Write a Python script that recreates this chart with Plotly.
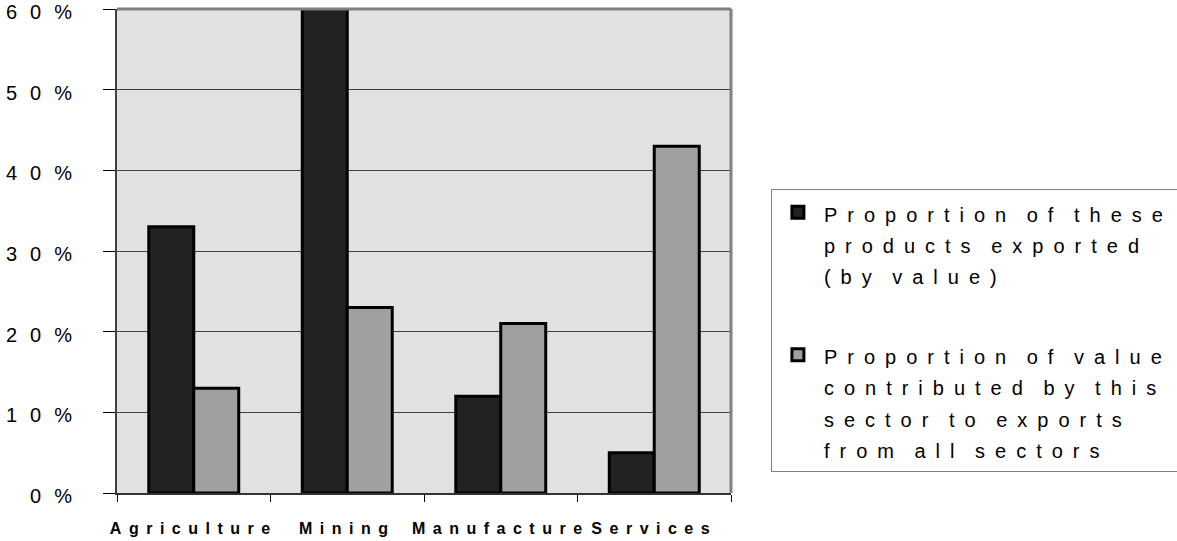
import plotly.graph_objects as go

# Sectors and the two measures for each (as fractions)
sectors = ["Agriculture", "Mining", "Manufacture", "Services"]
share_exported = [0.33, 0.60, 0.12, 0.05]
share_of_exports = [0.13, 0.23, 0.21, 0.43]

series_names = [
    "Proportion of these<br>products exported<br>(by value)",
    "Proportion of value<br>contributed by this<br>sector to exports<br>from all sectors",
]
series_colors = ["#222222", "#a0a0a0"]

y_tick_values = [0, 0.1, 0.2, 0.3, 0.4, 0.5, 0.6]
y_tick_labels = ["0%", "10%", "20%", "30%", "40%", "50%", "60%"]

FONT = "Liberation Sans, Arial, Helvetica, sans-serif"


def spaced(text, spacing, size=None, word=None):
    style = f"letter-spacing:{spacing}px"
    if word is not None:
        style += f";word-spacing:{word}px"
    if size is not None:
        style += f";font-size:{size}px"
    return f'<span style="{style}">{text}</span>'


fig = go.Figure()
for i, (name, vals, col) in enumerate(zip(series_names, [share_exported, share_of_exports], series_colors)):
    fig.add_trace(go.Bar(
        x=sectors,
        y=vals,
        name=spaced(name, 10, size=20, word=-5),
        legendgroup=f"g{i}",
        marker=dict(color=col, line=dict(color="#000000", width=3)),
        hoverinfo="x+y",
    ))

fig.update_layout(
    width=1177,
    height=541,
    margin=dict(l=117, r=446, t=9, b=48, autoexpand=False),
    paper_bgcolor="white",
    plot_bgcolor="#e1e1e1",
    barmode="group",
    bargap=0.414,
    bargroupgap=0,
    font=dict(family=FONT, color="#000000"),
    showlegend=True,
    legend=dict(
        x=1.065,
        y=0.628,
        xanchor="left",
        yanchor="top",
        bgcolor="white",
        bordercolor="#808080",
        borderwidth=1,
        font=dict(family=FONT, size=24, color="#000000"),
        traceorder="grouped",
        tracegroupgap=46,
        valign="top",
        itemwidth=42,
    ),
)

fig.update_xaxes(
    type="category",
    tickvals=sectors,
    ticktext=[spaced(f"<b>{s}</b>", 7.5) for s in sectors],
    tickfont=dict(family=FONT, size=16, color="#000000"),
    tickangle=0,
    automargin=False,
    ticks="outside",
    tickson="boundaries",
    ticklen=7,
    tickcolor="#000000",
    tickwidth=1,
    ticklabelstandoff=20,
    ticklabeloverflow="allow",
    showline=True,
    linecolor="#333333",
    linewidth=2,
    showgrid=False,
    zeroline=False,
)

fig.update_yaxes(
    range=[0, 0.6],
    tickvals=y_tick_values,
    ticktext=[spaced(t, 13) for t in y_tick_labels],
    tickfont=dict(family=FONT, size=20, color="#000000"),
    automargin=False,
    ticks="outside",
    ticklen=12,
    tickcolor="#000000",
    tickwidth=1,
    ticklabelstandoff=14,
    ticklabelshift=3,
    ticklabeloverflow="allow",
    showline=True,
    linecolor="#404040",
    linewidth=2,
    showgrid=True,
    gridcolor="#404040",
    gridwidth=1,
    zeroline=False,
)

# Gray frame along the top and right edges of the plotting area
fig.add_shape(type="line", xref="paper", yref="paper", x0=0, x1=1, y0=1, y1=1,
              line=dict(color="#808080", width=3))
fig.add_shape(type="line", xref="paper", yref="paper", x0=1, x1=1, y0=0, y1=1,
              line=dict(color="#808080", width=3))

fig.write_html("out.html")
